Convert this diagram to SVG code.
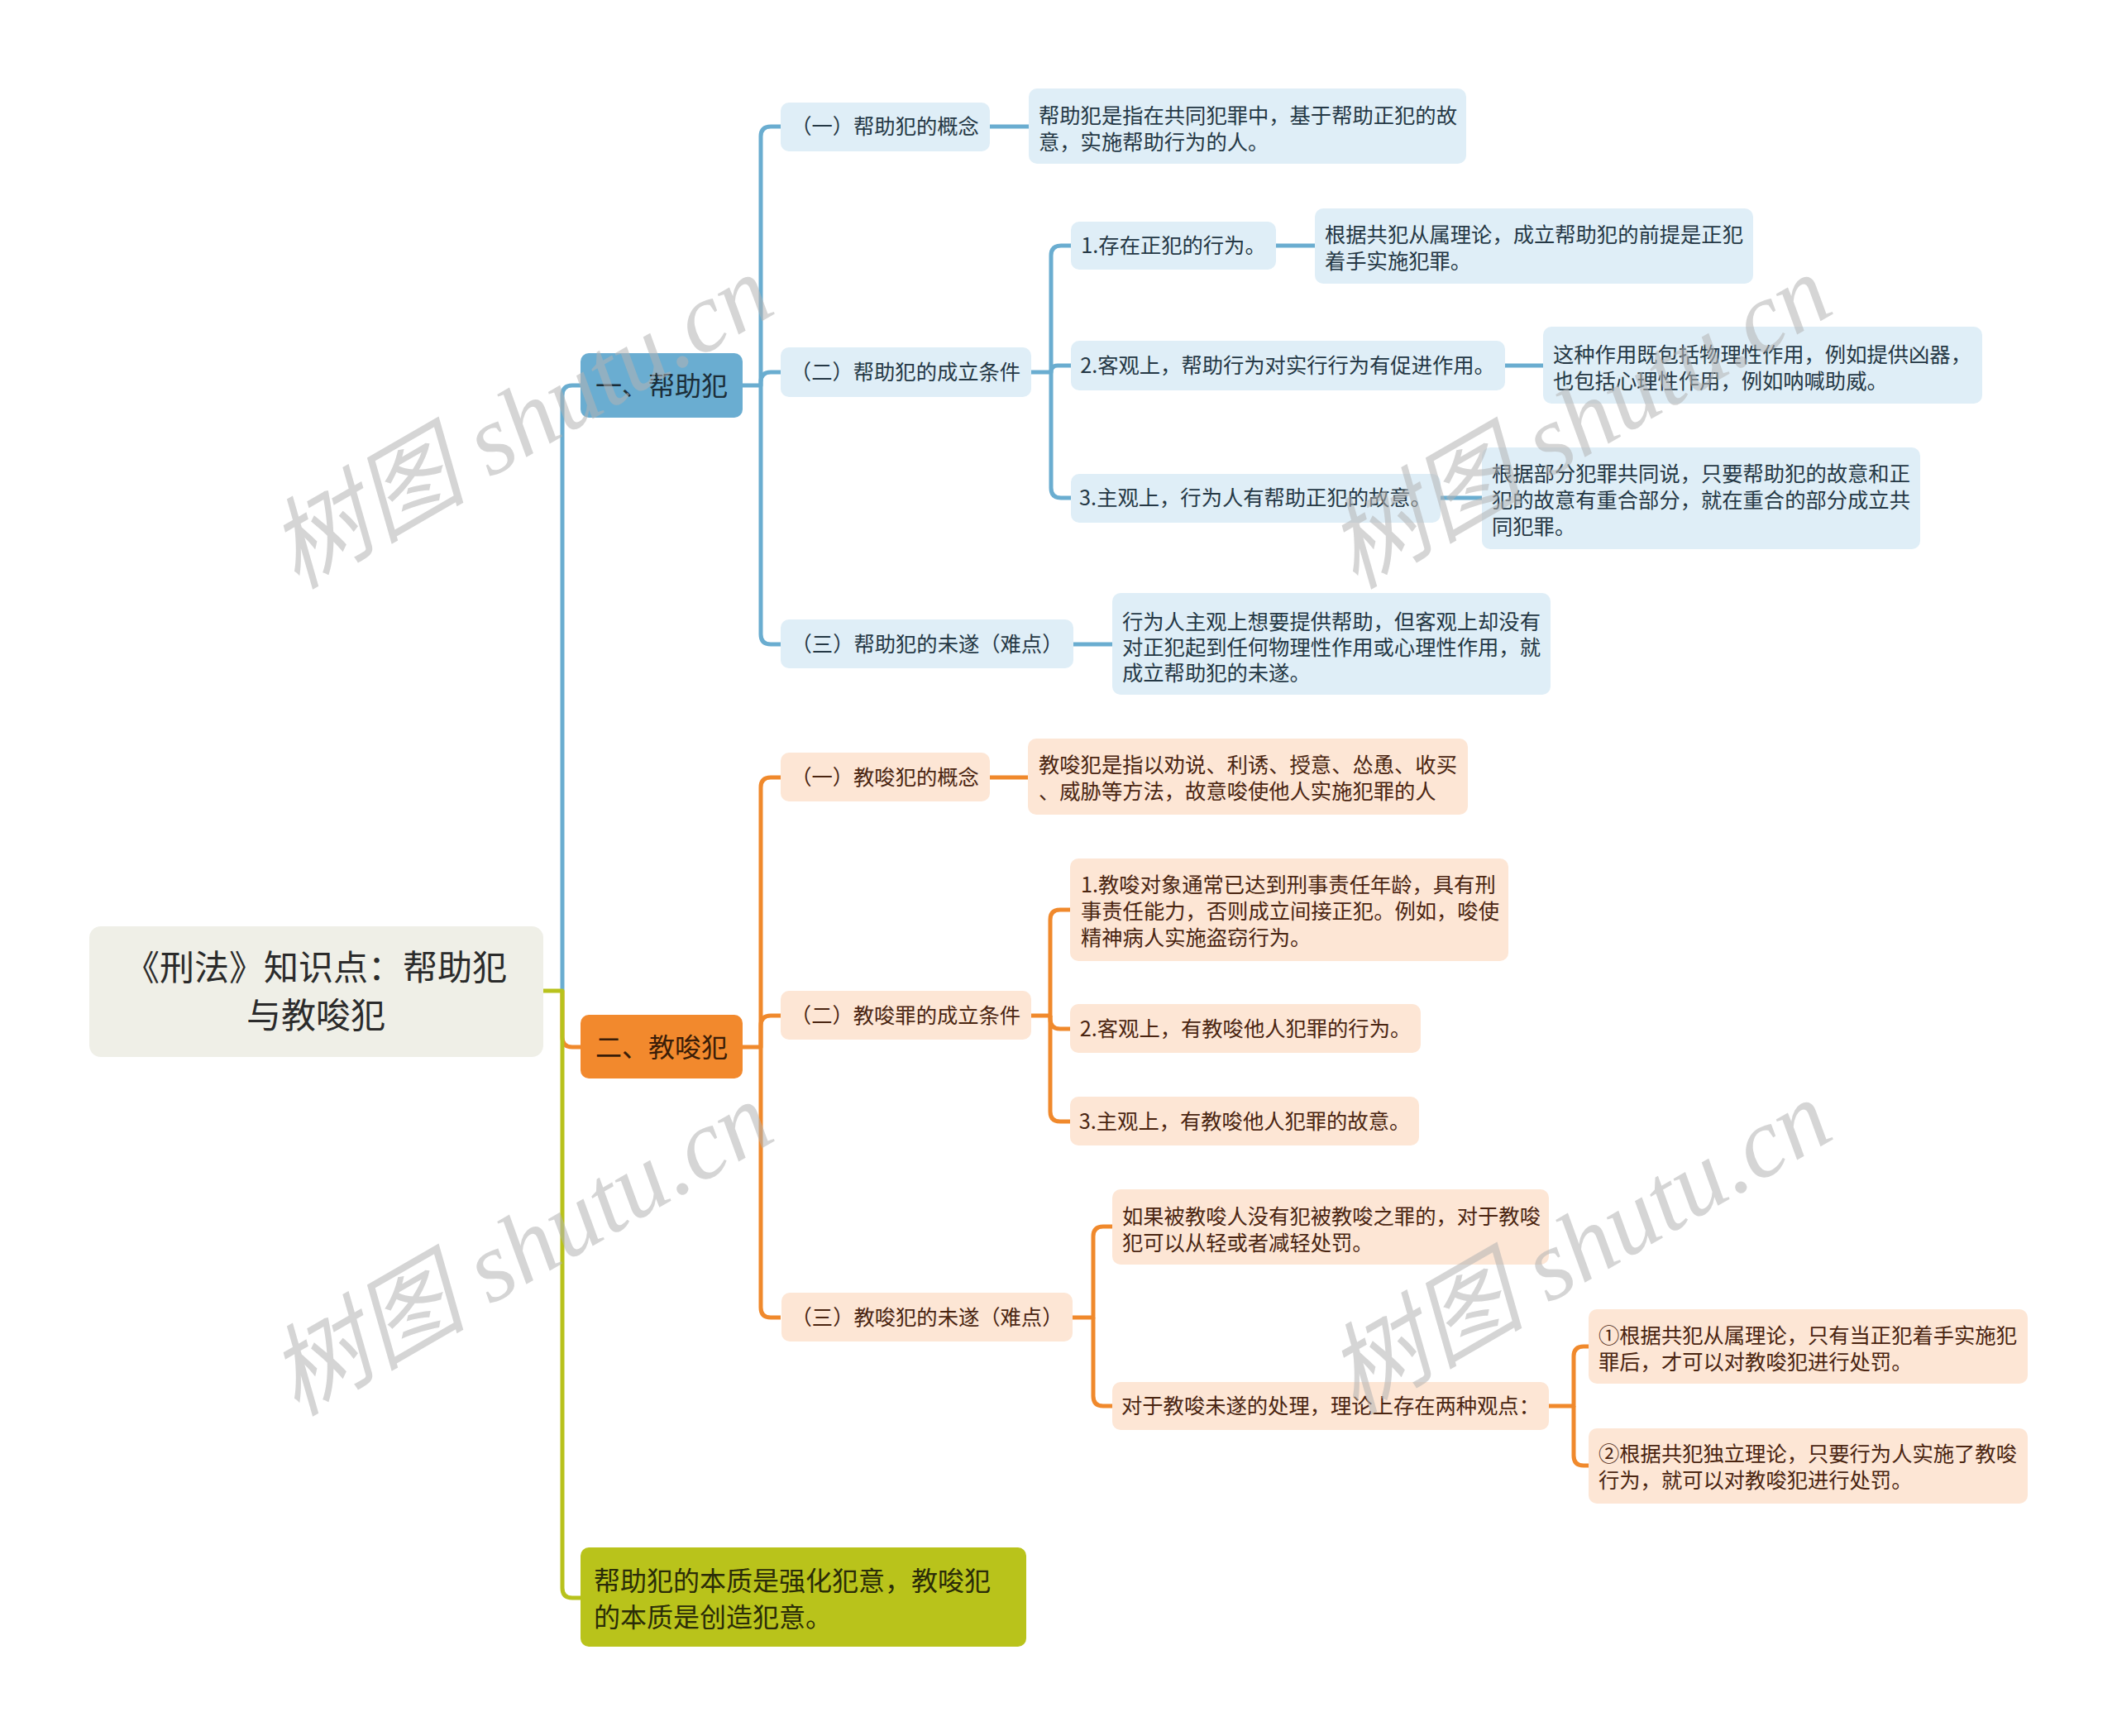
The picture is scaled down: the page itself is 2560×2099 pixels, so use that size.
<svg xmlns="http://www.w3.org/2000/svg" width="2560" height="2099" viewBox="0 0 2560 2099">
<style>
text{font-family:"Noto Sans CJK SC","Noto Sans",sans-serif}
.cb{fill:none;stroke:#6aadd0;stroke-width:5;stroke-linejoin:round}
.co{fill:none;stroke:#f0892c;stroke-width:5;stroke-linejoin:round}
.cg{fill:none;stroke:#b8c21c;stroke-width:5;stroke-linejoin:round}
.root{fill:#efefe7}
.n1b{fill:#6aadd1}
.n1o{fill:#f2892d}
.n1g{fill:#b9c31b}
.nb{fill:#dfeef7}
.no{fill:#fde6d5}
.tr{font-size:42px;fill:#2b2b2b;text-anchor:middle}
.t1b{font-size:32px;fill:#1b2d38;text-anchor:middle}
.t1o{font-size:32px;fill:#3a1d08;text-anchor:middle}
.t1g{font-size:32px;fill:#2a2c08}
.tb{font-size:25.3px;fill:#253845}
.to{font-size:25.3px;fill:#4a2511}
.m{text-anchor:middle}
.wm{font-family:"Liberation Serif","Noto Sans CJK SC",serif;font-style:italic;font-size:120px;fill:#b4b4b4;opacity:0.55;text-anchor:middle}
</style>

<g id="connectors">
  <path class="cb" d="M680,1198 V478 Q680,466 692,466 H702"/>
  <path class="co" d="M680,1198 V1254 Q680,1266 692,1266 H702"/>
  <path class="cg" d="M657,1198 H680 V1920 Q680,1932 692,1932 H702"/>

  <path class="cb" d="M898,466 H920 V165 Q920,153 932,153 H944"/>
  <path class="cb" d="M920,466 V462 Q920,450 932,450 H944"/>
  <path class="cb" d="M920,466 V767 Q920,779 932,779 H944"/>
  <path class="cb" d="M1197,153 H1244"/>
  <path class="cb" d="M1247,450 H1271 V309 Q1271,297 1283,297 H1295"/>
  <path class="cb" d="M1271,450 Q1271,442 1279,442 H1295"/>
  <path class="cb" d="M1271,450 V590 Q1271,602 1283,602 H1295"/>
  <path class="cb" d="M1543,297 H1590"/>
  <path class="cb" d="M1820,442 H1866"/>
  <path class="cb" d="M1742,602 H1792"/>
  <path class="cb" d="M1298,779 H1345"/>

  <path class="co" d="M898,1266 H920 V952 Q920,940 932,940 H944"/>
  <path class="co" d="M920,1266 V1240 Q920,1228 932,1228 H944"/>
  <path class="co" d="M920,1266 V1581 Q920,1593 932,1593 H944"/>
  <path class="co" d="M1197,940 H1243"/>
  <path class="co" d="M1247,1228 H1270 V1112 Q1270,1100 1282,1100 H1294"/>
  <path class="co" d="M1270,1228 V1232 Q1270,1244 1282,1244 H1294"/>
  <path class="co" d="M1270,1228 V1344 Q1270,1356 1282,1356 H1294"/>
  <path class="co" d="M1297,1593 H1322 V1495 Q1322,1483 1334,1483 H1345"/>
  <path class="co" d="M1322,1593 V1688 Q1322,1700 1334,1700 H1345"/>
  <path class="co" d="M1873,1700 H1903 V1640 Q1903,1628 1915,1628 H1921"/>
  <path class="co" d="M1903,1700 V1760 Q1903,1772 1915,1772 H1921"/>
</g>

<g id="root">
  <rect class="root" x="108" y="1120" width="549" height="158" rx="14"/>
  <text class="tr" x="382" y="1185">《刑法》知识点：帮助犯</text>
  <text class="tr" x="382" y="1243">与教唆犯</text>
</g>

<g id="n-help">
  <rect class="n1b" x="702" y="427" width="196" height="78" rx="10"/>
  <text class="t1b" x="800" y="478">一、帮助犯</text>
</g>
<g id="n-help-1">
  <rect class="nb" x="944" y="124" width="253" height="59" rx="10"/>
  <text class="tb m" x="1070" y="162">（一）帮助犯的概念</text>
</g>
<g id="n-help-1-a">
  <rect class="nb" x="1244" y="107" width="529" height="91" rx="10"/>
  <text class="tb" x="1256" y="149">帮助犯是指在共同犯罪中，基于帮助正犯的故</text>
  <text class="tb" x="1256" y="181">意，实施帮助行为的人。</text>
</g>
<g id="n-help-2">
  <rect class="nb" x="944" y="420" width="303" height="60" rx="10"/>
  <text class="tb m" x="1095" y="459">（二）帮助犯的成立条件</text>
</g>
<g id="n-help-2-1">
  <rect class="nb" x="1295" y="268" width="248" height="58" rx="10"/>
  <text class="tb m" x="1419" y="306">1.存在正犯的行为。</text>
</g>
<g id="n-help-2-1-a">
  <rect class="nb" x="1590" y="252" width="530" height="91" rx="10"/>
  <text class="tb" x="1602" y="293">根据共犯从属理论，成立帮助犯的前提是正犯</text>
  <text class="tb" x="1602" y="325">着手实施犯罪。</text>
</g>
<g id="n-help-2-2">
  <rect class="nb" x="1295" y="412" width="525" height="60" rx="10"/>
  <text class="tb m" x="1557" y="451">2.客观上，帮助行为对实行行为有促进作用。</text>
</g>
<g id="n-help-2-2-a">
  <rect class="nb" x="1866" y="395" width="531" height="93" rx="10"/>
  <text class="tb" x="1878" y="438">这种作用既包括物理性作用，例如提供凶器，</text>
  <text class="tb" x="1878" y="470">也包括心理性作用，例如呐喊助威。</text>
</g>
<g id="n-help-2-3">
  <rect class="nb" x="1295" y="573" width="447" height="59" rx="10"/>
  <text class="tb m" x="1518" y="611">3.主观上，行为人有帮助正犯的故意。</text>
</g>
<g id="n-help-2-3-a">
  <rect class="nb" x="1792" y="541" width="530" height="123" rx="10"/>
  <text class="tb" x="1804" y="582">根据部分犯罪共同说，只要帮助犯的故意和正</text>
  <text class="tb" x="1804" y="614">犯的故意有重合部分，就在重合的部分成立共</text>
  <text class="tb" x="1804" y="646">同犯罪。</text>
</g>
<g id="n-help-3">
  <rect class="nb" x="944" y="749" width="354" height="59" rx="10"/>
  <text class="tb m" x="1121" y="788">（三）帮助犯的未遂（难点）</text>
</g>
<g id="n-help-3-a">
  <rect class="nb" x="1345" y="717" width="530" height="123" rx="10"/>
  <text class="tb" x="1357" y="761">行为人主观上想要提供帮助，但客观上却没有</text>
  <text class="tb" x="1357" y="792">对正犯起到任何物理性作用或心理性作用，就</text>
  <text class="tb" x="1357" y="823">成立帮助犯的未遂。</text>
</g>

<g id="n-abet">
  <rect class="n1o" x="702" y="1227" width="196" height="77" rx="10"/>
  <text class="t1o" x="800" y="1278">二、教唆犯</text>
</g>
<g id="n-abet-1">
  <rect class="no" x="944" y="910" width="253" height="59" rx="10"/>
  <text class="to m" x="1070" y="949">（一）教唆犯的概念</text>
</g>
<g id="n-abet-1-a">
  <rect class="no" x="1243" y="893" width="532" height="92" rx="10"/>
  <text class="to" x="1256" y="934">教唆犯是指以劝说、利诱、授意、怂恿、收买</text>
  <text class="to" x="1256" y="966">、威胁等方法，故意唆使他人实施犯罪的人</text>
</g>
<g id="n-abet-2">
  <rect class="no" x="944" y="1198" width="303" height="59" rx="10"/>
  <text class="to m" x="1095" y="1237">（二）教唆罪的成立条件</text>
</g>
<g id="n-abet-2-1">
  <rect class="no" x="1294" y="1038" width="530" height="124" rx="10"/>
  <text class="to" x="1307" y="1079">1.教唆对象通常已达到刑事责任年龄，具有刑</text>
  <text class="to" x="1307" y="1111">事责任能力，否则成立间接正犯。例如，唆使</text>
  <text class="to" x="1307" y="1143">精神病人实施盗窃行为。</text>
</g>
<g id="n-abet-2-2">
  <rect class="no" x="1294" y="1214" width="424" height="59" rx="10"/>
  <text class="to m" x="1506" y="1253">2.客观上，有教唆他人犯罪的行为。</text>
</g>
<g id="n-abet-2-3">
  <rect class="no" x="1294" y="1326" width="422" height="59" rx="10"/>
  <text class="to m" x="1505" y="1365">3.主观上，有教唆他人犯罪的故意。</text>
</g>
<g id="n-abet-3">
  <rect class="no" x="945" y="1563" width="352" height="59" rx="10"/>
  <text class="to m" x="1121" y="1602">（三）教唆犯的未遂（难点）</text>
</g>
<g id="n-abet-3-1">
  <rect class="no" x="1345" y="1438" width="528" height="91" rx="10"/>
  <text class="to" x="1357" y="1480">如果被教唆人没有犯被教唆之罪的，对于教唆</text>
  <text class="to" x="1357" y="1512">犯可以从轻或者减轻处罚。</text>
</g>
<g id="n-abet-3-2">
  <rect class="no" x="1345" y="1671" width="528" height="58" rx="10"/>
  <text class="to m" x="1609" y="1709">对于教唆未遂的处理，理论上存在两种观点：</text>
</g>
<g id="n-abet-3-2-1">
  <rect class="no" x="1921" y="1583" width="531" height="90" rx="10"/>
  <text class="to" x="1933" y="1624">①根据共犯从属理论，只有当正犯着手实施犯</text>
  <text class="to" x="1933" y="1656">罪后，才可以对教唆犯进行处罚。</text>
</g>
<g id="n-abet-3-2-2">
  <rect class="no" x="1921" y="1727" width="531" height="91" rx="10"/>
  <text class="to" x="1933" y="1767">②根据共犯独立理论，只要行为人实施了教唆</text>
  <text class="to" x="1933" y="1799">行为，就可以对教唆犯进行处罚。</text>
</g>

<g id="n-essence">
  <rect class="n1g" x="702" y="1871" width="539" height="120" rx="10"/>
  <text class="t1g" x="718" y="1923">帮助犯的本质是强化犯意，教唆犯</text>
  <text class="t1g" x="718" y="1967">的本质是创造犯意。</text>
</g>

<g id="watermarks">
  <text class="wm" transform="translate(650,545) rotate(-30)">树图 shutu.cn</text>
  <text class="wm" transform="translate(1930,545) rotate(-30)">树图 shutu.cn</text>
  <text class="wm" transform="translate(650,1545) rotate(-30)">树图 shutu.cn</text>
  <text class="wm" transform="translate(1930,1543) rotate(-30)">树图 shutu.cn</text>
</g>
</svg>
